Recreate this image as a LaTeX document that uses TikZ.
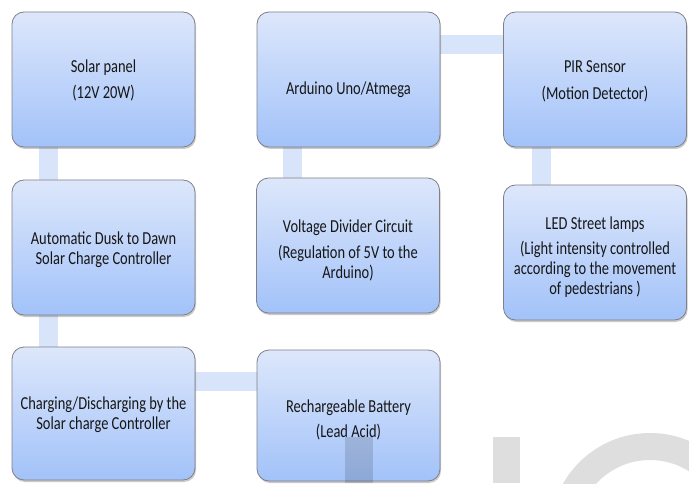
\documentclass[tikz,border=0pt]{standalone}
\usepackage{fontspec}
\setmainfont{Carlito}[FakeStretch=0.79]
\usetikzlibrary{shadows,backgrounds,calc}
\definecolor{boxtop}{RGB}{221,231,251}
\definecolor{boxbot}{RGB}{162,194,249}
\definecolor{boxline}{RGB}{128,128,134}
\definecolor{linkc}{RGB}{216,228,250}
\definecolor{txt}{RGB}{22,22,22}
\begin{document}
\begin{tikzpicture}[x=1pt,y=1pt,
  blk/.style={draw=boxline, line width=0.8pt, rounded corners=12pt,
    top color=boxtop, bottom color=boxbot,
    minimum width=183pt, minimum height=135pt, inner sep=0pt,
    drop shadow={shadow xshift=1pt, shadow yshift=-2pt, opacity=0.35, fill=black!60}},
  lbl/.style={align=center, text=txt, inner sep=0pt,
    font=\fontsize{18.3}{20}\selectfont},
  link/.style={line width=19pt, draw=linkc},
  wmark/.style={fill=black, opacity=0.13}]
\useasboundingbox (0,0) rectangle (689,483);

\node[blk] (sol) at (103.5,403.5) {};
\node[blk] (ard) at (348.5,403.5) {};
\node[blk] (pir) at (595,403.5) {};
\node[blk] (aut) at (103.5,235.5) {};
\node[blk] (vol) at (348,237.5) {};
\node[blk] (led) at (595,230.5) {};
\node[blk, minimum height=133pt] (chg) at (103.5,69.5) {};
\node[blk, minimum height=131pt] (bat) at (348.5,67.5) {};

\node[lbl] (solt) at ($(sol.center)+(0,-1)$) {Solar panel\\[6pt](12V 20W)};
\node[lbl] (ardt) at ($(ard.center)+(0,-2)$) {\raisebox{-13.5pt}[0pt][0pt]{Arduino Uno/Atmega}};
\node[lbl] (pirt) at ($(pir.center)+(0,-2)$) {PIR Sensor\\[7pt](Motion Detector)};
\node[lbl] (autt) at ($(aut.center)+(0,-2)$) {Automatic Dusk to Dawn\\Solar Charge Controller};
\node[lbl] (volt) at ($(vol.center)+(0,-5)$) {Voltage Divider Circuit\\[6pt](Regulation of 5V to the\\Arduino)};
\node[lbl] (ledt) at ($(led.center)+(0,-5)$) {LED Street lamps\\[5pt](Light intensity controlled\\according to the movement\\of pedestrians )};
\node[lbl] (chgt) at ($(chg.center)+(0,-1)$) {Charging/Discharging by the\\Solar charge Controller};
\node[lbl] (batt) at ($(bat.center)+(0,-4)$) {Rechargeable Battery\\[5pt](Lead Acid)};

\begin{scope}[on background layer]
  \draw[link] ($(ard.north east)+(0,-33)$) -- ($(pir.north west)+(0,-33)$);
  \draw[link] ($(chg.north east)+(0,-35)$) -- ($(bat.north west)+(0,-32)$);
  \draw[link] ($(sol.south west)+(36.5,0)$) -- ($(aut.north west)+(36.5,0)$);
  \draw[link] ($(aut.south west)+(36.5,0)$) -- ($(chg.north west)+(36.5,0)$);
  \draw[link] ($(ard.south west)+(35.5,0)$) -- ($(vol.north west)+(36,0)$);
  \draw[link] ($(pir.south west)+(38.5,0)$) -- ($(led.north west)+(38.5,0)$);
\end{scope}

\begin{scope}
  \clip (0,0) rectangle (689,483);
  \fill[wmark] (345,0) rectangle (373,46);
  \fill[wmark] (493,0) rectangle (520,46);
  \fill[wmark, even odd rule] (650,-50) circle (100pt) (650,-50) circle (73pt);
\end{scope}
\end{tikzpicture}
\end{document}
